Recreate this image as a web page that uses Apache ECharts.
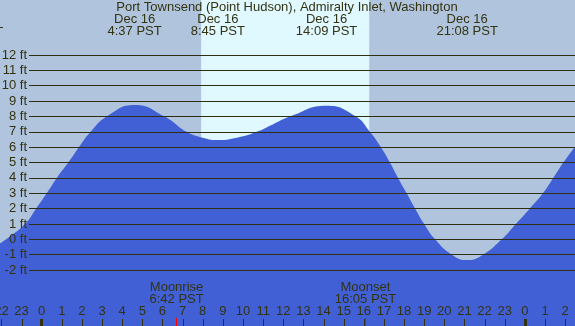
<!DOCTYPE html>
<html>
<head>
<meta charset="utf-8">
<script src="https://cdn.jsdelivr.net/npm/echarts@6/dist/echarts.min.js"></script>
<style>
  html, body { margin: 0; padding: 0; background: #b0c4de; }
  #tideChart { width: 575px; height: 326px; }
</style>
</head>
<body>
<div id="tideChart"></div>
<script>
// hours from midnight Dec 16 (negative = Dec 15, >24 = Dec 17)
// mostly the times where it crosses each foot line, plus the turning points
const tideHours = [-2.1, -1.77, -0.83, -0.28, 0.25, 0.75, 1.32, 1.85, 2.43, 3.23, 4.62, 6.1, 7.2, 7.9, 8.75, 9.8, 10.68, 11.5, 12.33, 14.15, 15.6, 16.3, 16.85, 17.3, 17.7, 18.13, 18.55, 19.0, 19.54, 20.37, 21.13, 21.92, 22.85, 23.55, 24.24, 24.89, 25.41, 25.91, 26.5]
// water level, ft
const tideFeet = [-0.3, 0, 1, 2, 3, 4, 5, 6, 7, 8, 8.75, 8, 7, 6.65, 6.47, 6.65, 7, 7.5, 8, 8.7, 8, 7, 6, 5, 4, 3, 2, 1, 0, -1, -1.35, -1, 0, 1, 2, 3, 4, 5, 6.05]

const hourTicks = [-2, -1, 0, 1, 2, 3, 4, 5, 6, 7, 8, 9, 10, 11, 12, 13, 14, 15, 16, 17, 18, 19, 20, 21, 22, 23, 24, 25, 26]
const midnightTicks = [0, 24]

const extremeTimes = [4.617, 8.75, 14.15, 21.133]
const extremeLabels = ['Dec 16\n4:37 PST', 'Dec 16\n8:45 PST', 'Dec 16\n14:09 PST', 'Dec 16\n21:08 PST']

const sunrise = 7.92
const sunset = 16.27

const moonTimes = [6.7, 16.083]
const moonLabels = ['Moonrise\n6:42 PST', 'Moonset\n16:05 PST']

const titleText = 'Port Townsend (Point Hudson), Admiralty Inlet, Washington'

const textColor = '#333311'
const fontFamily = '"Liberation Sans", Arial, sans-serif'
const fontSize = 13
const X_MIN = -2.07
const X_MAX = 26.49

const chart = echarts.init(document.getElementById('tideChart'))

const tickAxis = (values, color, width, length) => ({
  type: 'value',
  gridIndex: 0,
  position: 'bottom',
  min: X_MIN,
  max: X_MAX,
  axisLine: { show: false, onZero: false },
  splitLine: { show: false },
  axisLabel: { show: false },
  axisTick: {
    show: true,
    inside: true,
    length: length,
    customValues: values,
    lineStyle: { color: color, width: width }
  },
  z: 12
})

const option = {
  backgroundColor: '#b0c4de',
  animation: false,
  grid: [
    { left: 0, right: 0, top: 0, bottom: 0, outerBoundsMode: 'none' },
    { left: 29, right: 0, top: 55, bottom: 56, outerBoundsMode: 'none' }
  ],
  xAxis: [
    {
      // hour labels
      type: 'value',
      gridIndex: 0,
      position: 'bottom',
      min: X_MIN,
      max: X_MAX,
      axisLine: { show: false, onZero: false },
      splitLine: { show: false },
      axisTick: { show: false },
      axisLabel: {
        show: true,
        inside: true,
        margin: 8,
        customValues: hourTicks,
        color: textColor,
        fontFamily: fontFamily,
        fontSize: fontSize,
        formatter: v => String(((Math.round(v) % 24) + 24) % 24)
      },
      z: 12
    },
    tickAxis(midnightTicks, textColor, 3, 7),
    tickAxis(moonTimes, '#ff0000', 1, 8),
    { type: 'value', gridIndex: 1, show: false, min: 0, max: 1, axisLine: { onZero: false } }
  ],
  yAxis: [
    { type: 'value', gridIndex: 0, show: false, min: -5.64, max: 15.58 },
    {
      type: 'value',
      gridIndex: 1,
      min: -2,
      max: 12,
      interval: 1,
      axisLine: { show: false, onZero: false },
      axisTick: { show: false },
      axisLabel: {
        margin: 2,
        color: textColor,
        fontFamily: fontFamily,
        fontSize: fontSize,
        formatter: '{value} ft'
      },
      splitLine: { show: true, lineStyle: { color: '#2e2e10', width: 1 } },
      z: 10
    }
  ],
  series: [
    {
      // daylight band
      type: 'line',
      xAxisIndex: 0,
      yAxisIndex: 0,
      data: [],
      z: 1,
      markArea: {
        silent: true,
        itemStyle: { color: '#e0f8ff' },
        data: [[{ xAxis: sunrise, yAxis: -5.64 }, { xAxis: sunset, yAxis: 15.58 }]]
      }
    },
    {
      name: 'tide',
      type: 'line',
      xAxisIndex: 0,
      yAxisIndex: 0,
      smooth: 0.5,
      symbol: 'none',
      z: 3,
      lineStyle: { width: 0 },
      areaStyle: { color: '#4160d6', opacity: 1, origin: 'start' },
      data: tideHours.map((h, i) => [h, tideFeet[i]])
    }
  ]
}

chart.setOption(option)

// annotations placed at their time on the x axis
const px = t => chart.convertToPixel({ xAxisIndex: 0 }, t)
const txt = (text, x, y) => ({
  type: 'text',
  z: 20,
  style: {
    text: text,
    x: x,
    y: y,
    align: 'center',
    verticalAlign: 'middle',
    fill: textColor,
    fontFamily: fontFamily,
    fontSize: fontSize,
    lineHeight: 12.5
  }
})

const elements = [txt(titleText, 287, 7)]
extremeTimes.forEach((t, i) => elements.push(txt(extremeLabels[i], px(t), 25.5)))
moonTimes.forEach((t, i) => elements.push(txt(moonLabels[i], px(t), 293.3)))

// hourly ticks on the bottom edge
hourTicks.forEach(h => {
  const x = Math.round(px(h)) + 0.5
  elements.push({
    type: 'line',
    z: 19,
    shape: { x1: x, y1: 319, x2: x, y2: 326 },
    style: { stroke: textColor, lineWidth: 1 }
  })
})

elements.push({
  type: 'line',
  z: 20,
  shape: { x1: 0, y1: 27.5, x2: 3, y2: 27.5 },
  style: { stroke: textColor, lineWidth: 1 }
})

chart.setOption({ graphic: elements })
</script>
</body>
</html>
